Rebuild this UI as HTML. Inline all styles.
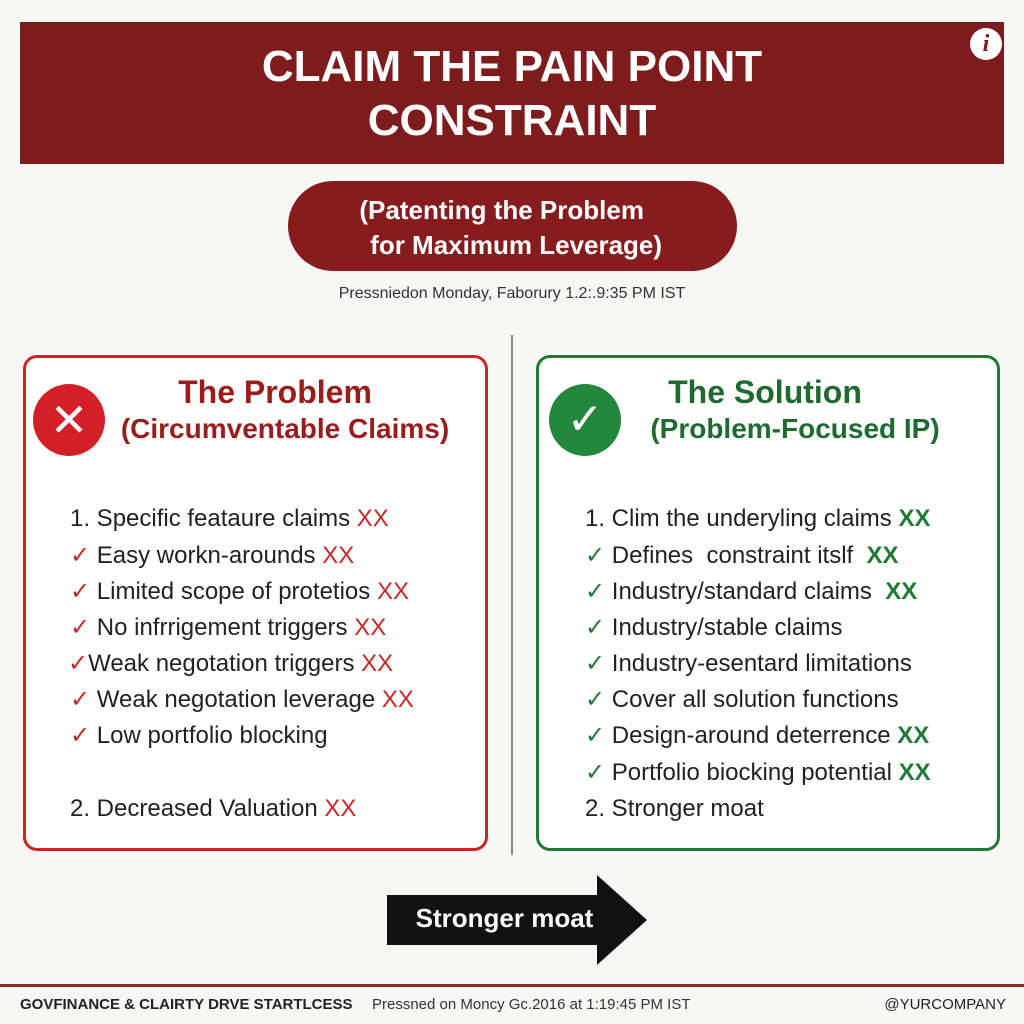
<!DOCTYPE html>
<html><head><meta charset="utf-8"><style>
*{margin:0;padding:0;box-sizing:border-box}
body{width:1024px;height:1024px;background:#f7f7f6;position:relative;overflow:hidden;font-family:"Liberation Sans",Arial,sans-serif}
.abs{position:absolute}
.hdr{left:20px;top:22px;width:984px;height:142px;background:#7d1b1d;color:#fff;font-weight:bold;font-size:44px;text-align:center;line-height:54px;padding-top:18px}
.pill{left:288px;top:181px;width:449px;height:90px;border-radius:45px;background:#861c1e;color:#fff;font-weight:bold;font-size:26px;line-height:35px;padding-top:12px;text-align:center}
.box{top:355px;height:496px;border:3px solid;border-radius:14px;background:#fff}
.ttl{font-weight:bold;text-align:center}
.li{font-size:24px;color:#222;white-space:nowrap}
.r{color:#c62828}.g{color:#1e7a34}
</style></head><body>
<div class="abs hdr">CLAIM THE PAIN POINT<br>CONSTRAINT</div>
<div class="abs" style="left:970px;top:28px;width:32px;height:32px;border-radius:50%;background:#fff;color:#7d1b1d;font:bold italic 24px/32px 'Liberation Serif',serif;text-align:center">i</div>
<div class="abs pill">(Patenting the Problem&nbsp;&nbsp;&nbsp;<br>&nbsp;for Maximum Leverage)</div>
<div class="abs" style="left:0;width:1024px;top:285px;text-align:center;font-size:16px;color:#333">Pressniedon Monday, Faborury 1.2:.9:35 PM IST</div>
<div class="abs" style="left:511px;top:335px;width:2px;height:520px;background:#888"></div>

<div class="abs box" style="left:23px;width:465px;border-color:#c62828"></div>
<div class="abs" style="left:33px;top:384px;width:72px;height:72px;border-radius:50%;background:#d32027;color:#fff;font:bold 46px/72px 'DejaVu Sans',sans-serif;text-align:center">✕</div>
<div class="abs ttl" style="left:110px;width:330px;top:374px;font-size:32px;color:#9b1c1c">The Problem</div>
<div class="abs ttl" style="left:105px;width:360px;top:413px;font-size:28px;color:#9b1c1c">(Circumventable Claims)</div>
<div class="abs li" style="left:70px;top:505px">1. Specific feataure claims <span class="r">XX</span></div>
<div class="abs li" style="left:70px;top:541px"><span class="r">✓</span> Easy workn-arounds <span class="r">XX</span></div>
<div class="abs li" style="left:70px;top:577px"><span class="r">✓</span> Limited scope of protetios <span class="r">XX</span></div>
<div class="abs li" style="left:70px;top:613px"><span class="r">✓</span> No infrrigement triggers <span class="r">XX</span></div>
<div class="abs li" style="left:68px;top:649px"><span class="r">✓</span>Weak negotation triggers <span class="r">XX</span></div>
<div class="abs li" style="left:70px;top:685px"><span class="r">✓</span> Weak negotation leverage <span class="r">XX</span></div>
<div class="abs li" style="left:70px;top:721px"><span class="r">✓</span> Low portfolio blocking</div>
<div class="abs li" style="left:70px;top:795px">2. Decreased Valuation <span class="r">XX</span></div>

<div class="abs box" style="left:536px;width:464px;border-color:#1e7a34"></div>
<div class="abs" style="left:549px;top:384px;width:72px;height:72px;border-radius:50%;background:#23883c;color:#fff;font:bold 44px/72px 'DejaVu Sans',sans-serif;text-align:center">✓</div>
<div class="abs ttl" style="left:600px;width:330px;top:374px;font-size:32px;color:#1e6a30">The Solution</div>
<div class="abs ttl" style="left:615px;width:360px;top:413px;font-size:28px;color:#1e6a30">(Problem-Focused IP)</div>
<div class="abs li" style="left:585px;top:505px">1. Clim the underyling claims <span class="g"><b>XX</b></span></div>
<div class="abs li" style="left:585px;top:541px"><span class="g">✓</span> Defines&nbsp; constraint itslf&nbsp; <span class="g"><b>XX</b></span></div>
<div class="abs li" style="left:585px;top:577px"><span class="g">✓</span> Industry/standard claims&nbsp; <span class="g"><b>XX</b></span></div>
<div class="abs li" style="left:585px;top:613px"><span class="g">✓</span> Industry/stable claims</div>
<div class="abs li" style="left:585px;top:649px"><span class="g">✓</span> Industry-esentard limitations</div>
<div class="abs li" style="left:585px;top:685px"><span class="g">✓</span> Cover all solution functions</div>
<div class="abs li" style="left:585px;top:721px"><span class="g">✓</span> Design-around deterrence <span class="g"><b>XX</b></span></div>
<div class="abs li" style="left:585px;top:758px"><span class="g">✓</span> Portfolio biocking potential <span class="g"><b>XX</b></span></div>
<div class="abs li" style="left:585px;top:795px">2. Stronger moat</div>

<svg class="abs" style="left:0;top:0" width="1024" height="1024"><polygon points="387,895 597,895 597,875 647,920 597,965 597,945 387,945" fill="#111"/></svg>
<div class="abs" style="left:387px;width:235px;top:903px;text-align:center;color:#fff;font-weight:bold;font-size:26px">Stronger moat</div>

<div class="abs" style="left:0;top:984px;width:1024px;height:3px;background:#8b2a2a"></div>
<div class="abs" style="left:20px;top:996px;font-size:15px;font-weight:bold;color:#222">GOVFINANCE &amp; CLAIRTY DRVE STARTLCESS</div>
<div class="abs" style="left:372px;top:996px;font-size:15px;color:#333">Pressned on Moncy Gc.2016 at 1:19:45 PM IST</div>
<div class="abs" style="right:18px;top:996px;font-size:15px;color:#222">@YURCOMPANY</div>
</body></html>
